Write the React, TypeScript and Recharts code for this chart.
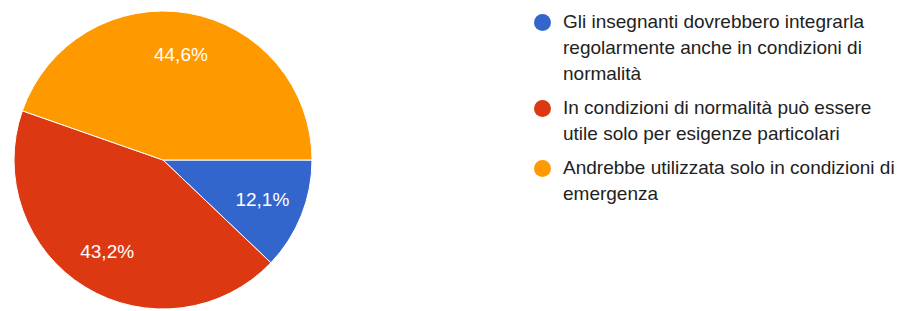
import { PieChart, Pie, Cell, Legend } from 'recharts'

const categories = [
  'Gli insegnanti dovrebbero integrarla regolarmente anche in condizioni di normalità',
  'In condizioni di normalità può essere utile solo per esigenze particolari',
  'Andrebbe utilizzata solo in condizioni di emergenza',
]
const legendLines = [
  ['Gli insegnanti dovrebbero integrarla', 'regolarmente anche in condizioni di', 'normalità'],
  ['In condizioni di normalità può essere', 'utile solo per esigenze particolari'],
  ['Andrebbe utilizzata solo in condizioni di', 'emergenza'],
]
const values = [12.1, 43.2, 44.6]
const colors = ['#3366cc', '#dc3912', '#ff9900']

const data = categories.map((name, i) => ({ name, value: values[i] }))

const RAD = Math.PI / 180

function SliceLabel({ cx, cy, midAngle, value }: any) {
  const r = 107
  const x = cx + r * Math.cos(-midAngle * RAD)
  const y = cy + r * Math.sin(-midAngle * RAD)
  return (
    <text x={x} y={y} fill="#fff" textAnchor="middle" dominantBaseline="central"
      fontSize={19} fontFamily="'Liberation Sans', Arial, sans-serif">
      {value.toFixed(1).replace('.', ',')}%
    </text>
  )
}

function LegendBox() {
  return (
    <div style={{ fontFamily: "'Liberation Sans', Arial, sans-serif", fontSize: 19, lineHeight: '26px', color: '#222' }}>
      {legendLines.map((lines, i) => (
        <div key={i} style={{ position: 'relative', paddingLeft: 30, marginBottom: 8 }}>
          <span style={{
            position: 'absolute', left: 1, top: 5, width: 17, height: 17,
            borderRadius: '50%', background: colors[i],
          }} />
          {lines.map((l, j) => <div key={j} style={{ whiteSpace: 'nowrap' }}>{l}</div>)}
        </div>
      ))}
    </div>
  )
}

export default function App() {
  return (
    <div style={{ position: 'absolute', left: 0, top: 0, width: 920, height: 311, background: '#fff' }}>
      <PieChart width={920} height={311} margin={{ top: 0, right: 0, bottom: 0, left: 0 }}>
        <Pie
          data={data}
          dataKey="value"
          nameKey="name"
          cx={163}
          cy={160}
          outerRadius={149}
          startAngle={0}
          endAngle={-360}
          stroke="#fff"
          strokeWidth={1}
          label={SliceLabel}
          labelLine={false}
          isAnimationActive={false}
        >
          {data.map((d, i) => <Cell key={d.name} fill={colors[i]} />)}
        </Pie>
        <Legend
          layout="vertical"
          content={<LegendBox />}
          wrapperStyle={{ left: 533, top: 9, width: 385 }}
        />
      </PieChart>
    </div>
  )
}
